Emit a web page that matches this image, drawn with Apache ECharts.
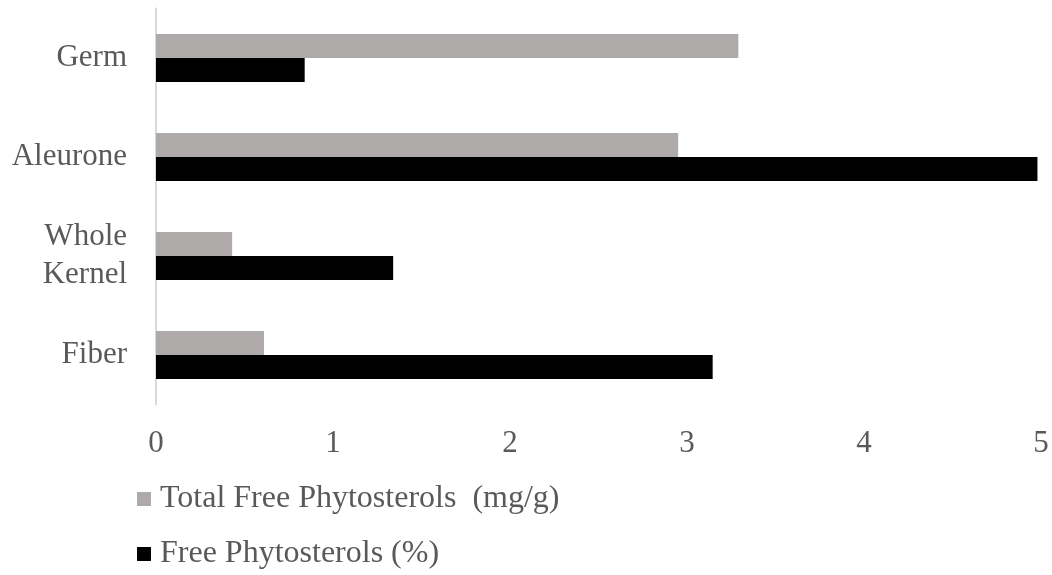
<!DOCTYPE html>
<html>
<head>
<meta charset="utf-8">
<script src="https://cdn.jsdelivr.net/npm/echarts@6/dist/echarts.min.js"></script>
<style>
  html, body { margin: 0; padding: 0; background: #fff; }
  #chart { width: 1052px; height: 575px; }
</style>
</head>
<body>
<div id="chart"></div>
<script>
// Fractions, listed top to bottom
const categories = ['Germ', 'Aleurone', 'Whole\nKernel', 'Fiber'];
const totalFreePhytosterols = [3.29, 2.95, 0.43, 0.61];   // mg/g
const freePhytosterolsPct = [0.84, 4.98, 1.34, 3.145];   // %
const xTicks = [0, 1, 2, 3, 4, 5];

const seriesNames = ['Total Free Phytosterols  (mg/g)', 'Free Phytosterols (%)'];
const FONT = '"Liberation Serif", "Times New Roman", serif';
const TEXT = '#595959';

const chart = echarts.init(document.getElementById('chart'), null, { renderer: 'canvas' });

// one legend block per series, stacked under the axis
const legendTops = [483, 538];
const legends = seriesNames.map((name, i) => ({
  left: 137,
  top: legendTops[i],
  padding: 0,
  itemWidth: 14,
  itemHeight: 14,
  icon: 'rect',
  data: [name],
  textStyle: { fontFamily: FONT, fontSize: 32, lineHeight: 32, color: TEXT, padding: [0, 0, 0, 4] }
}));

chart.setOption({
  animation: false,
  textStyle: { fontFamily: FONT },
  grid: { left: 156, right: 11, top: 8.5, height: 396, containLabel: false },
  legend: legends,
  xAxis: {
    type: 'value',
    min: xTicks[0],
    max: xTicks[xTicks.length - 1],
    interval: 1,
    axisLine: { show: false },
    axisTick: { show: false },
    splitLine: { show: false },
    axisLabel: { fontFamily: FONT, fontSize: 31, color: TEXT, margin: 24 }
  },
  yAxis: {
    type: 'category',
    data: categories,
    inverse: true,
    axisLine: { show: true, lineStyle: { color: '#d9d9d9', width: 2 } },
    axisTick: { show: false },
    axisLabel: { fontFamily: FONT, fontSize: 31, lineHeight: 38, color: TEXT, margin: 29, align: 'right' }
  },
  series: [
    {
      name: seriesNames[0],
      type: 'bar',
      data: totalFreePhytosterols,
      itemStyle: { color: '#AEAAAA' },
      barGap: '0%',
      barCategoryGap: '51.5%'
    },
    {
      name: seriesNames[1],
      type: 'bar',
      data: freePhytosterolsPct,
      itemStyle: { color: '#000000' },
      barGap: '0%',
      barCategoryGap: '51.5%'
    }
  ]
});
</script>
</body>
</html>
